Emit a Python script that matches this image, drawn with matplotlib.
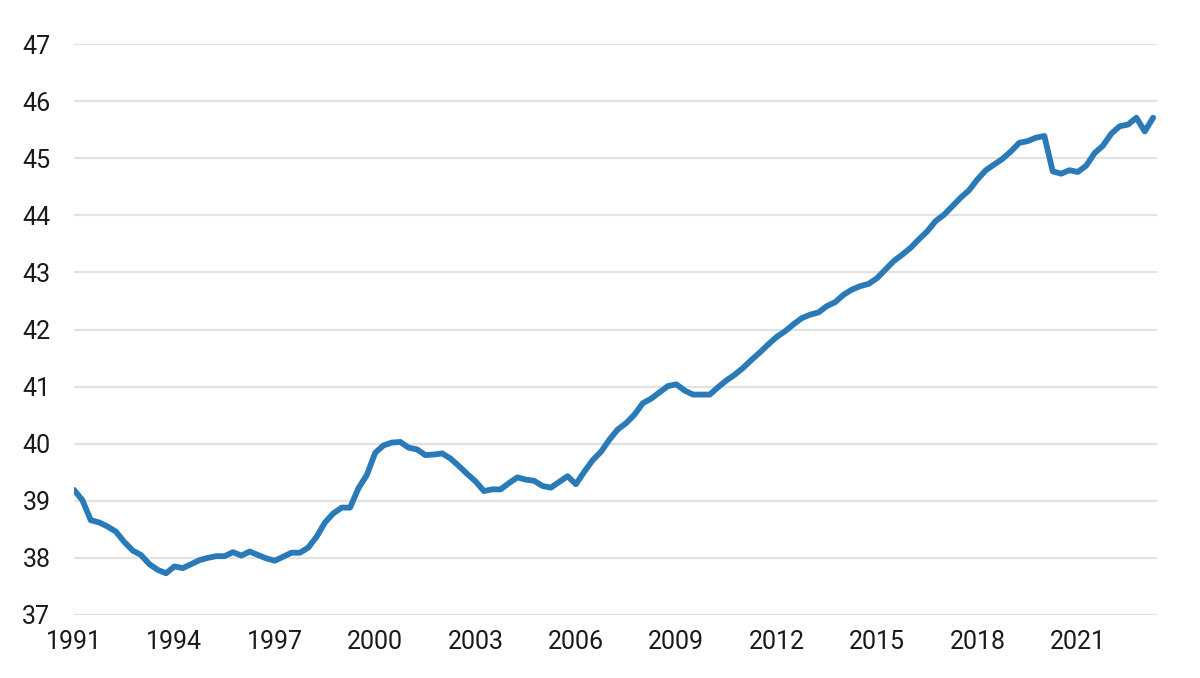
import matplotlib
matplotlib.use("Agg")
import matplotlib.pyplot as plt
import numpy as np

# quarterly values, 1991 Q1 .. 2023 Q2
start_year = 1991
valores = [
    39.19, 39.01, 38.66, 38.62,
    38.55, 38.46, 38.28, 38.13,
    38.05, 37.89, 37.79, 37.73,
    37.85, 37.82, 37.89, 37.96,
    38.00, 38.03, 38.03, 38.10,
    38.04, 38.11, 38.05, 37.99,
    37.95, 38.02, 38.09, 38.09,
    38.18, 38.37, 38.62, 38.78,
    38.88, 38.88, 39.22, 39.45,
    39.84, 39.97, 40.02, 40.03,
    39.93, 39.90, 39.80, 39.81,
    39.83, 39.74, 39.61, 39.47,
    39.34, 39.17, 39.20, 39.20,
    39.31, 39.41, 39.37, 39.35,
    39.26, 39.23, 39.33, 39.43,
    39.29, 39.51, 39.71, 39.86,
    40.07, 40.25, 40.36, 40.51,
    40.71, 40.79, 40.90, 41.01,
    41.04, 40.93, 40.86, 40.86,
    40.86, 40.99, 41.11, 41.21,
    41.33, 41.47, 41.60, 41.74,
    41.87, 41.97, 42.09, 42.20,
    42.26, 42.30, 42.41, 42.48,
    42.61, 42.70, 42.76, 42.80,
    42.90, 43.05, 43.20, 43.31,
    43.43, 43.58, 43.72, 43.90,
    44.01, 44.16, 44.31, 44.44,
    44.63, 44.79, 44.89, 44.99,
    45.12, 45.27, 45.30, 45.36,
    45.39, 44.77, 44.73, 44.79,
    44.76, 44.87, 45.09, 45.22,
    45.43, 45.56, 45.59, 45.71,
    45.47, 45.71,
]
anos = start_year + np.arange(len(valores)) / 4.0

xticks = list(range(1991, 2022, 3))
yticks = list(range(37, 48))

plt.rcParams['font.family'] = ['Roboto', 'DejaVu Sans']

fig = plt.figure(figsize=(12, 6.78), dpi=100)
ax = fig.add_axes([0.0617, 0.093, 0.9023, 0.842])

ax.plot(anos, valores, color="#2a7ab8", linewidth=4.2, solid_capstyle="round",
        solid_joinstyle="round", zorder=3)

ax.set_xlim(1991, 2023.36)
ax.set_ylim(37, 47)
ax.set_xticks(xticks)
ax.set_yticks(yticks)
ax.grid(axis="y", color="#e2e2e2", linewidth=1.6)
ax.set_axisbelow(True)
for s in ax.spines.values():
    s.set_visible(False)
ax.tick_params(axis="both", length=0, labelsize=18, colors="#1a1a1a")
ax.tick_params(axis="y", pad=17)
ax.tick_params(axis="x", pad=11)

fig.savefig("out.png", dpi=100)
